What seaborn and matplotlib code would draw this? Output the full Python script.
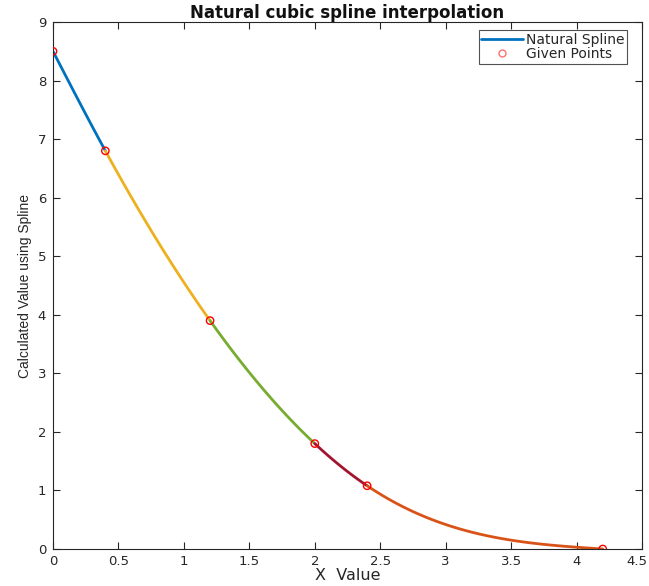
import numpy as np
import pandas as pd
import matplotlib
matplotlib.use("Agg")
import matplotlib.pyplot as plt
import matplotlib.transforms as mtransforms
from matplotlib.lines import Line2D
import seaborn as sns

x_pts = [0.0, 0.4, 1.2, 2.0, 2.4, 4.2]
y_pts = [8.5, 6.8, 3.9, 1.8, 1.08, 0.0]
seg_colors = ["#0072BD", "#EDB120", "#77AC30", "#A2142F", "#D95319"]
title = "Natural cubic spline interpolation"
xlabel = "X  Value"
ylabel = "Calculated Value using Spline"
legend_labels = ["Natural Spline", "Given Points"]
xticks = [0, 0.5, 1, 1.5, 2, 2.5, 3, 3.5, 4, 4.5]
xticklabels = ["0", "0.5", "1", "1.5", "2", "2.5", "3", "3.5", "4", "4.5"]
yticks = [0, 1, 2, 3, 4, 5, 6, 7, 8, 9]


def natural_spline_coeffs(x, y):
    x = np.asarray(x, float)
    y = np.asarray(y, float)
    n = len(x)
    h = np.diff(x)
    A = np.zeros((n, n))
    b = np.zeros(n)
    A[0, 0] = 1
    A[-1, -1] = 1
    for i in range(1, n - 1):
        A[i, i - 1] = h[i - 1]
        A[i, i] = 2 * (h[i - 1] + h[i])
        A[i, i + 1] = h[i]
        b[i] = 3 * ((y[i + 1] - y[i]) / h[i] - (y[i] - y[i - 1]) / h[i - 1])
    c = np.linalg.solve(A, b)
    coefs = []
    for i in range(n - 1):
        bi = (y[i + 1] - y[i]) / h[i] - h[i] * (2 * c[i] + c[i + 1]) / 3
        di = (c[i + 1] - c[i]) / (3 * h[i])
        coefs.append((y[i], bi, c[i], di))
    return coefs


sns.set_style("white")
plt.rcParams["font.family"] = ["DejaVu Sans"]

fig = plt.figure(figsize=(6.49, 5.86), dpi=100)
ax = fig.add_axes([53 / 649, 1 - 549 / 586, (642 - 53) / 649, (549 - 22) / 586])

coefs = natural_spline_coeffs(x_pts, y_pts)
frames = []
for i, (a, bb, cc, dd) in enumerate(coefs):
    xs = np.linspace(x_pts[i], x_pts[i + 1], 60)
    t = xs - x_pts[i]
    ys = a + bb * t + cc * t ** 2 + dd * t ** 3
    frames.append(pd.DataFrame({"x": xs, "y": ys, "seg": i}))
df = pd.concat(frames)

for i in range(len(coefs)):
    sub = df[df["seg"] == i]
    sns.lineplot(data=sub, x="x", y="y", ax=ax, color=seg_colors[i], linewidth=2,
                 sort=False, legend=False)

pts = pd.DataFrame({"x": x_pts, "y": y_pts})
sns.scatterplot(data=pts, x="x", y="y", ax=ax, marker="o", s=28, facecolors="none",
                edgecolor="#FF0000", linewidth=1, zorder=5, legend=False)

ax.set_xlim(0, 4.5)
ax.set_ylim(0, 9)
ax.set_xticks(xticks)
ax.set_xticklabels(xticklabels)
ax.set_yticks(yticks)
ax.tick_params(direction="in", length=5, width=0.8, color="#262626", labelsize=9.5,
               top=True, right=True, bottom=True, left=True, labelcolor="#262626")
ax.tick_params(axis="y", pad=5)
ax.tick_params(axis="x", pad=4)
for s in ax.spines.values():
    s.set_color("#262626")
    s.set_linewidth(0.8)

# keep the last x tick label inside the figure
last = ax.get_xticklabels()[-1]
last.set_transform(last.get_transform() +
                   mtransforms.ScaledTranslation(-5 / 100, 0, fig.dpi_scale_trans))

ax.set_title(title, fontsize=12, fontweight="bold", pad=3, color="#111111")
ax.set_xlabel(xlabel, fontsize=11.5, labelpad=0, color="#262626")
ax.set_ylabel(ylabel, fontsize=10, labelpad=4, color="#262626",
              family=["Liberation Sans", "DejaVu Sans"])

handles = [
    Line2D([], [], color=seg_colors[0], linewidth=2),
    Line2D([], [], linestyle="none", marker="o", markersize=5, markerfacecolor="none",
           markeredgecolor="#FF7070", markeredgewidth=1),
]
leg = ax.legend(handles, legend_labels, loc="upper right",
                bbox_to_anchor=((627 - 53) / 589, (549 - 30) / 527),
                fontsize=10, frameon=True, fancybox=False, borderpad=0.2,
                handlelength=3.0, handletextpad=0.2, labelspacing=0.0, borderaxespad=0)
leg.get_frame().set_edgecolor("#262626")
leg.get_frame().set_linewidth(0.8)

fig.savefig("out.png", dpi=100)
